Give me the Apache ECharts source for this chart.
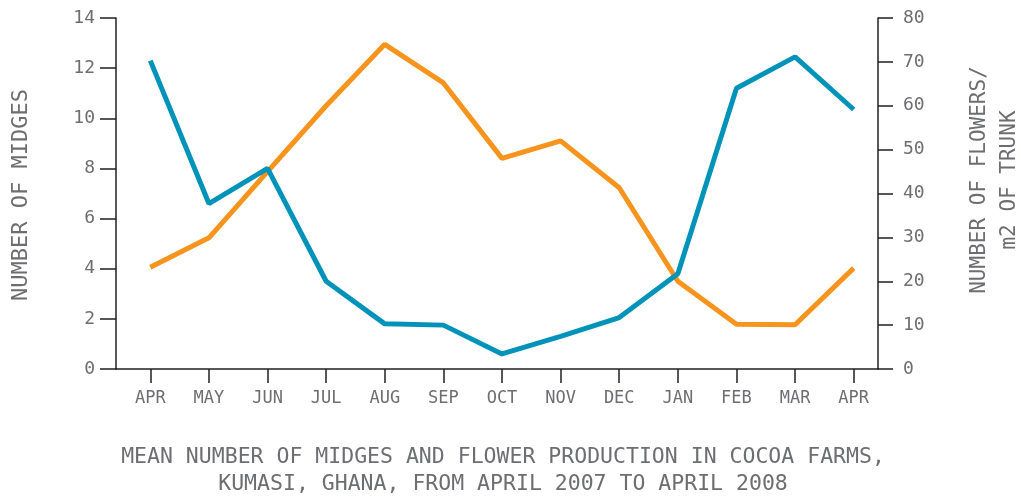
<!DOCTYPE html>
<html lang="en">
<head>
<meta charset="utf-8">
<script src="https://cdn.jsdelivr.net/npm/echarts@6/dist/echarts.min.js"></script>
<style>
  html, body { margin: 0; padding: 0; background: #fff; }
  #chartMain { width: 1021px; height: 497px; }
</style>
</head>
<body>
<div id="chartMain"></div>
<script>
    // months, April 2007 to April 2008
    var months = ['APR', 'MAY', 'JUN', 'JUL', 'AUG', 'SEP', 'OCT', 'NOV', 'DEC', 'JAN', 'FEB', 'MAR', 'APR'];
    // left axis: number of midges
    var midges = [12.3, 6.6, 8.0, 3.5, 1.8, 1.75, 0.6, 1.3, 2.05, 3.8, 11.2, 12.45, 10.35];
    // right axis: flowers per m2 of trunk
    var flowers = [23.2, 29.9, 45, 60, 74, 65.2, 48, 52, 41.3, 20, 10.2, 10.1, 23];

    var gray = '#6d6e71';
    var ink = '#231f20';
    var font = 'DejaVu Sans Mono';

    var myChart = echarts.init(document.getElementById('chartMain'));

    myChart.setOption({
        animation: false,
        grid: [
            { left: 116, top: 18, width: 762, height: 351 },
            { left: 121, top: 18, width: 762, height: 351 }
        ],
        xAxis: [
            {
                gridIndex: 0, type: 'value', min: 0, max: 1,
                axisLine: { show: true, lineStyle: { color: ink, width: 1.5 } },
                axisTick: { show: false }, axisLabel: { show: false }, splitLine: { show: false }
            },
            {
                gridIndex: 1, type: 'category', data: months, boundaryGap: true,
                axisLine: { show: false },
                axisTick: { show: true, alignWithLabel: true, length: 14, lineStyle: { color: ink, width: 1.5 } },
                axisLabel: { color: gray, fontFamily: font, fontSize: 17, margin: 21, interval: 0 },
                splitLine: { show: false }
            }
        ],
        yAxis: [
            {
                gridIndex: 0, type: 'value', position: 'left', min: 0, max: 14, interval: 2,
                axisLine: { show: true, lineStyle: { color: ink, width: 1.5 } },
                axisTick: { show: true, length: 16, lineStyle: { color: ink, width: 1.5 } },
                axisLabel: { color: gray, fontFamily: font, fontSize: 18, margin: 21 },
                splitLine: { show: false }
            },
            {
                gridIndex: 0, type: 'value', position: 'right', min: 0, max: 80, interval: 10,
                axisLine: { show: true, lineStyle: { color: ink, width: 1.5 } },
                axisTick: { show: true, length: 15, lineStyle: { color: ink, width: 1.5 } },
                axisLabel: { color: gray, fontFamily: font, fontSize: 18, margin: 25 },
                splitLine: { show: false }
            },
            { gridIndex: 1, type: 'value', min: 0, max: 14, show: false },
            { gridIndex: 1, type: 'value', min: 0, max: 80, show: false }
        ],
        graphic: [
            {
                type: 'text', x: 21, y: 195, rotation: Math.PI / 2,
                style: { text: 'NUMBER OF MIDGES', fill: gray, font: '22px "' + font + '"',
                         textAlign: 'center', textVerticalAlign: 'middle' }
            },
            {
                type: 'text', x: 995, y: 180, rotation: Math.PI / 2,
                style: { text: 'NUMBER OF FLOWERS/\nm2 OF TRUNK', fill: gray, font: '21px "' + font + '"',
                         lineHeight: 30, textAlign: 'center', textVerticalAlign: 'middle' }
            },
            {
                type: 'text', x: 503, y: 457,
                style: { text: 'MEAN NUMBER OF MIDGES AND FLOWER PRODUCTION IN COCOA FARMS,', fill: gray,
                         font: '21.5px "' + font + '"', textAlign: 'center', textVerticalAlign: 'middle' }
            },
            {
                type: 'text', x: 503, y: 484,
                style: { text: 'KUMASI, GHANA, FROM APRIL 2007 TO APRIL 2008', fill: gray,
                         font: '21.5px "' + font + '"', textAlign: 'center', textVerticalAlign: 'middle' }
            }
        ],
        series: [
            {
                name: 'Flowers', type: 'line', xAxisIndex: 1, yAxisIndex: 3,
                data: flowers, symbol: 'none',
                lineStyle: { color: '#f7941d', width: 5 }
            },
            {
                name: 'Midges', type: 'line', xAxisIndex: 1, yAxisIndex: 2,
                data: midges, symbol: 'none',
                lineStyle: { color: '#0093b9', width: 5 }
            }
        ]
    });
</script>
</body>
</html>
